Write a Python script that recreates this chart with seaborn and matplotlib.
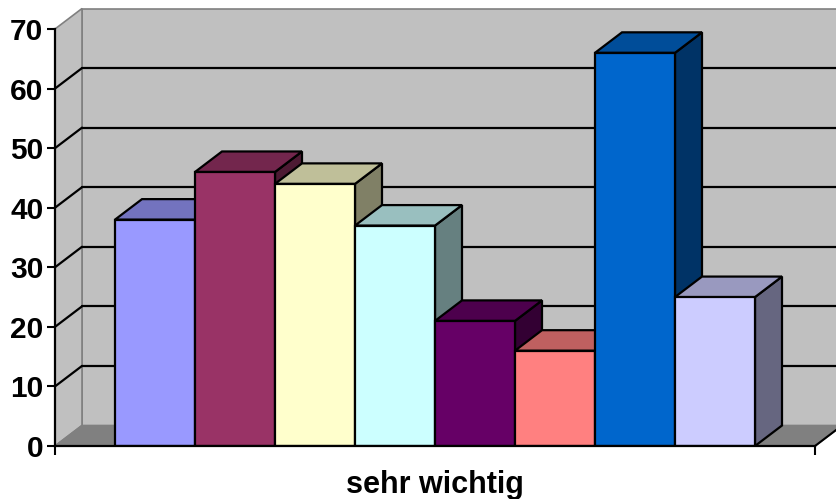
import matplotlib
matplotlib.use("Agg")
import matplotlib.pyplot as plt
from matplotlib.patches import Polygon, Rectangle
from matplotlib.lines import Line2D
from matplotlib.ticker import FixedLocator
from matplotlib.colors import to_rgb
import pandas as pd
import seaborn as sns

# Chart data
categories = ["sehr wichtig"]
series = ["Reihe 1", "Reihe 2", "Reihe 3", "Reihe 4",
          "Reihe 5", "Reihe 6", "Reihe 7", "Reihe 8"]
values = [38, 46, 44, 37, 21, 16, 66, 25]
colors = ["#9999FF", "#993366", "#FFFFCC", "#CCFFFF",
          "#660066", "#FF8080", "#0066CC", "#CCCCFF"]
y_ticks = [0, 10, 20, 30, 40, 50, 60, 70]

sns.set_style("white")
plt.rcParams["font.family"] = ["Liberation Sans", "DejaVu Sans"]
plt.rcParams["font.weight"] = "bold"

W, H = 836, 499
fig = plt.figure(figsize=(W / 100, H / 100), dpi=100)
fig.patch.set_facecolor("white")
ax = fig.add_axes([55 / W, 53 / H, 760 / W, 417 / H])

df = pd.DataFrame({
    "Kategorie": categories * len(series),
    "Reihe": series,
    "Wert": values,
})
sns.barplot(data=df, x="Kategorie", y="Wert", hue="Reihe", hue_order=series,
            palette=colors, saturation=1, edgecolor="black", linewidth=1.6,
            legend=False, ax=ax)

# the front faces produced by seaborn, left to right
bars = sorted([p for p in ax.patches if isinstance(p, Rectangle)],
              key=lambda p: p.get_x())

ymin, ymax = y_ticks[0], y_ticks[-1]
xmin, xmax = -0.475, 0.475
ax.set_xlim(xmin, xmax)
ax.set_ylim(ymin, ymax)
ax.patch.set_visible(False)
ax.set_xlabel("")
ax.set_ylabel("")

# oblique depth offset (pixels) converted to data units
p0 = ax.transData.transform((0, 0))
p1 = ax.transData.transform((1, 1))
DX = 27 / (p1[0] - p0[0])
DY = 20.5 / (p1[1] - p0[1])

WALL = "#C0C0C0"
FLOOR = "#808080"
EDGE = "#808080"


def poly(pts, fc, ec, z, lw=1.2):
    ax.add_patch(Polygon(pts, closed=True, facecolor=fc, edgecolor=ec,
                         linewidth=lw, zorder=z, clip_on=False,
                         joinstyle="miter"))


# back wall, side wall and floor
poly([(xmin + DX, ymin + DY), (xmax + DX, ymin + DY),
      (xmax + DX, ymax + DY), (xmin + DX, ymax + DY)], WALL, EDGE, 0.5)
poly([(xmin, ymin), (xmin, ymax), (xmin + DX, ymax + DY),
      (xmin + DX, ymin + DY)], WALL, EDGE, 0.6)
poly([(xmin, ymin), (xmax, ymin), (xmax + DX, ymin + DY),
      (xmin + DX, ymin + DY)], FLOOR, EDGE, 0.7)
ax.add_line(Line2D([xmax, xmax + DX], [ymin, ymin + DY], color="black",
                   lw=1.5, zorder=0.8, clip_on=False))

# gridlines on the back wall and the side wall
for t in y_ticks[1:-1]:
    ax.add_line(Line2D([xmin + DX, xmax + DX], [t + DY, t + DY],
                       color="black", lw=1.6, zorder=1, clip_on=False))
    ax.add_line(Line2D([xmin, xmin + DX], [t, t + DY],
                       color="black", lw=1.6, zorder=1, clip_on=False))

# extrude each bar: top face and right side face
for i, b in enumerate(bars):
    x0 = b.get_x()
    x1 = x0 + b.get_width()
    h = b.get_height()
    base = to_rgb(b.get_facecolor())
    top = tuple(c * 0.75 for c in base)
    side = tuple(c * 0.5 for c in base)
    z = 3 + i * 0.1
    poly([(x1, 0), (x1, h), (x1 + DX, h + DY), (x1 + DX, DY)],
         side, "black", z, lw=1.6)
    poly([(x0, h), (x1, h), (x1 + DX, h + DY), (x0 + DX, h + DY)],
         top, "black", z, lw=1.6)
    b.set_zorder(z + 0.05)
    b.set_joinstyle("miter")

# front axes
for s in ["top", "right"]:
    ax.spines[s].set_visible(False)
for s in ["left", "bottom"]:
    ax.spines[s].set_color("black")
    ax.spines[s].set_linewidth(1.6)
    ax.spines[s].set_zorder(10)

ax.set_yticks(y_ticks)
ax.tick_params(axis="y", left=True, length=5.8, width=1.5, color="black",
               direction="out", pad=2.5, labelsize=21.5, labelcolor="black")
ax.tick_params(axis="x", which="major", bottom=True, length=0, pad=17,
               labelsize=22, labelcolor="black")
ax.xaxis.set_minor_locator(FixedLocator([xmin, xmax]))
ax.tick_params(axis="x", which="minor", bottom=True, length=6.5, width=1.5,
               color="black", direction="out")

fig.savefig("out.png", dpi=100, facecolor="white")
